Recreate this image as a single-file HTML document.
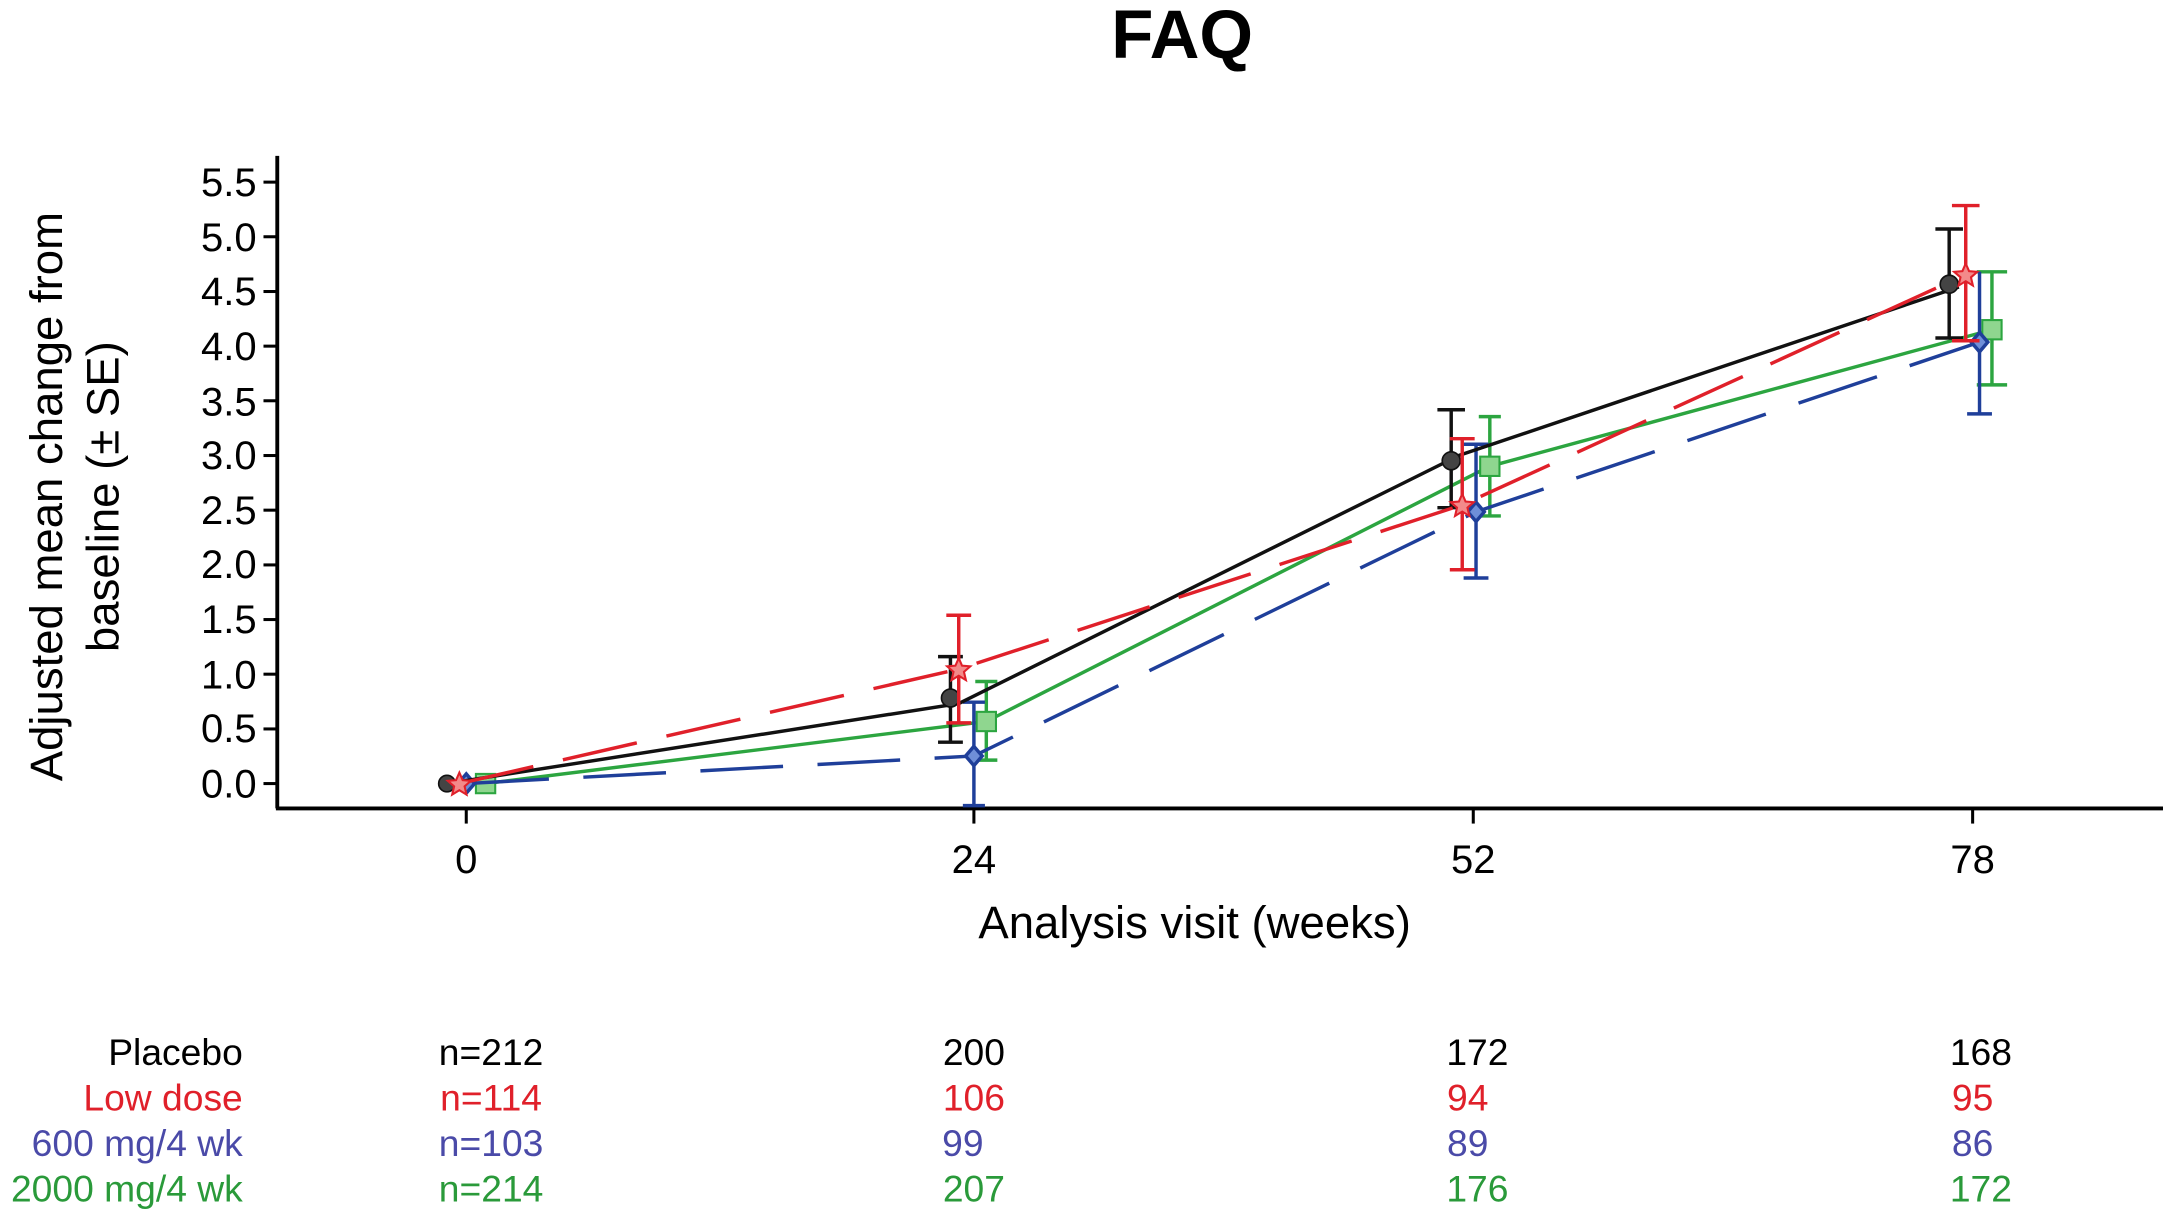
<!DOCTYPE html>
<html><head><style>body{margin:0;background:#fff}svg{display:block}</style></head><body>
<svg width="2163" height="1214" viewBox="0 0 1568 880" xmlns="http://www.w3.org/2000/svg" font-family="Liberation Sans, Arial, sans-serif">
<text x="857" y="42" font-size="50" font-weight="bold" text-anchor="middle">FAQ</text>
<g stroke="#000" stroke-width="2.8" fill="none">
<line x1="201" y1="113" x2="201" y2="586"/>
<line x1="200" y1="586" x2="1568" y2="586"/>
<g stroke-width="2.2">
<line x1="191" y1="568" x2="201" y2="568"/><line x1="191" y1="528.4" x2="201" y2="528.4"/><line x1="191" y1="488.7" x2="201" y2="488.7"/><line x1="191" y1="449.1" x2="201" y2="449.1"/><line x1="191" y1="409.5" x2="201" y2="409.5"/><line x1="191" y1="369.8" x2="201" y2="369.8"/><line x1="191" y1="330.2" x2="201" y2="330.2"/><line x1="191" y1="290.5" x2="201" y2="290.5"/><line x1="191" y1="250.9" x2="201" y2="250.9"/><line x1="191" y1="211.3" x2="201" y2="211.3"/><line x1="191" y1="171.6" x2="201" y2="171.6"/><line x1="191" y1="132" x2="201" y2="132"/>
<line x1="338" y1="586" x2="338" y2="597"/><line x1="706" y1="586" x2="706" y2="597"/><line x1="1068" y1="586" x2="1068" y2="597"/><line x1="1430" y1="586" x2="1430" y2="597"/>
</g></g>
<g font-size="29" text-anchor="end">
<text x="186" y="578">0.0</text><text x="186" y="538">0.5</text><text x="186" y="499">1.0</text><text x="186" y="459">1.5</text><text x="186" y="419">2.0</text><text x="186" y="380">2.5</text><text x="186" y="340">3.0</text><text x="186" y="301">3.5</text><text x="186" y="261">4.0</text><text x="186" y="221">4.5</text><text x="186" y="182">5.0</text><text x="186" y="142">5.5</text>
</g>
<g font-size="29" text-anchor="middle">
<text x="338" y="633">0</text><text x="706" y="633">24</text><text x="1068" y="633">52</text><text x="1430" y="633">78</text>
<text x="866" y="680" font-size="33">Analysis visit (weeks)</text>
</g>
<text transform="translate(45,360) rotate(-90)" font-size="33" text-anchor="middle">Adjusted mean change from</text>
<text transform="translate(86,360) rotate(-90)" font-size="33" text-anchor="middle">baseline (± SE)</text>
<!-- green -->
<g stroke="#2ca540" stroke-width="2.5" fill="none">
<polyline points="352,568 715,523 1080,338 1444,239"/>
<line x1="715" y1="494" x2="715" y2="551"/><line x1="707" y1="494" x2="723" y2="494"/><line x1="707" y1="551" x2="723" y2="551"/>
<line x1="1080" y1="302" x2="1080" y2="374"/><line x1="1072" y1="302" x2="1088" y2="302"/><line x1="1072" y1="374" x2="1088" y2="374"/>
<line x1="1444" y1="197" x2="1444" y2="279"/><line x1="1433" y1="197" x2="1455" y2="197"/><line x1="1433" y1="279" x2="1455" y2="279"/>
</g>
<g fill="#8fd68f" stroke="#2ca540" stroke-width="1.5">
<rect x="345" y="561" width="14" height="14"/><rect x="708" y="516" width="14" height="14"/><rect x="1073" y="331" width="14" height="14"/><rect x="1437" y="232" width="14" height="14"/>
</g>
<!-- blue -->
<g stroke="#1f3f9a" stroke-width="2.5" fill="none">
<polyline points="338,568 706,548 1070,371 1435,248" stroke-dasharray="60,25"/>
<line x1="706" y1="584" x2="706" y2="509"/><line x1="698" y1="584" x2="714" y2="584"/><line x1="698" y1="509" x2="714" y2="509"/>
<line x1="1070" y1="419" x2="1070" y2="322"/><line x1="1061" y1="419" x2="1079" y2="419"/><line x1="1061" y1="322" x2="1079" y2="322"/>
<line x1="1435" y1="300" x2="1435" y2="197"/><line x1="1426" y1="300" x2="1444" y2="300"/>
<path d="M338,561 l6,7 -6,7 -6,-7z M706,541 l6,7 -6,7 -6,-7z M1070,364 l6,7 -6,7 -6,-7z M1435,241 l6,7 -6,7 -6,-7z" fill="#6f8fd8"/>
</g>
<!-- black -->
<g stroke="#111" stroke-width="2.5" fill="none">
<polyline points="324,568 695,510 1058,330 1420,208"/>
<line x1="689" y1="476" x2="689" y2="538"/><line x1="680" y1="476" x2="698" y2="476"/><line x1="680" y1="538" x2="698" y2="538"/>
<line x1="1052" y1="297" x2="1052" y2="368"/><line x1="1042" y1="297" x2="1062" y2="297"/><line x1="1042" y1="368" x2="1062" y2="368"/>
<line x1="1413" y1="166" x2="1413" y2="245"/><line x1="1403" y1="166" x2="1423" y2="166"/><line x1="1403" y1="245" x2="1423" y2="245"/>
</g>
<g fill="#444" stroke="#111" stroke-width="1.2">
<circle cx="324" cy="568" r="6"/><circle cx="689" cy="506" r="6.5"/><circle cx="1052" cy="334" r="6.5"/><circle cx="1413" cy="206" r="6.5"/>
</g>
<!-- red -->
<g stroke="#e0202a" stroke-width="2.5" fill="none">
<polyline points="333,568 695,485 1060,366 1425,199" stroke-dasharray="55,22"/>
<line x1="695" y1="446" x2="695" y2="524"/><line x1="686" y1="446" x2="704" y2="446"/><line x1="686" y1="524" x2="704" y2="524"/>
<line x1="1060" y1="318" x2="1060" y2="413"/><line x1="1051" y1="318" x2="1069" y2="318"/><line x1="1051" y1="413" x2="1069" y2="413"/>
<line x1="1425" y1="149" x2="1425" y2="247"/><line x1="1415" y1="149" x2="1435" y2="149"/><line x1="1415" y1="247" x2="1435" y2="247"/>
</g>
<g fill="#f38a8a" stroke="#e0202a" stroke-width="1.5">
<path d="M333,560 l2.4,5.5 6,0.5 -4.6,4 1.4,6 -5.2,-3.2 -5.2,3.2 1.4,-6 -4.6,-4 6,-0.5z"/>
<path d="M695,477 l2.4,5.5 6,0.5 -4.6,4 1.4,6 -5.2,-3.2 -5.2,3.2 1.4,-6 -4.6,-4 6,-0.5z"/>
<path d="M1060,358 l2.4,5.5 6,0.5 -4.6,4 1.4,6 -5.2,-3.2 -5.2,3.2 1.4,-6 -4.6,-4 6,-0.5z"/>
<path d="M1425,191 l2.4,5.5 6,0.5 -4.6,4 1.4,6 -5.2,-3.2 -5.2,3.2 1.4,-6 -4.6,-4 6,-0.5z"/>
</g>
<!-- n table -->
<g font-size="27">
<g text-anchor="end"><text x="176" y="772">Placebo</text><text x="176" y="805" fill="#e0202a">Low dose</text><text x="176" y="838" fill="#4a4aa8">600 mg/4 wk</text><text x="176" y="871" fill="#2a9a3a">2000 mg/4 wk</text></g>
<g text-anchor="middle">
<text x="356" y="772">n=212</text><text x="706" y="772">200</text><text x="1071" y="772">172</text><text x="1436" y="772">168</text>
<g fill="#e0202a"><text x="356" y="805">n=114</text><text x="706" y="805">106</text><text x="1064" y="805">94</text><text x="1430" y="805">95</text></g>
<g fill="#4a4aa8"><text x="356" y="838">n=103</text><text x="698" y="838">99</text><text x="1064" y="838">89</text><text x="1430" y="838">86</text></g>
<g fill="#2a9a3a"><text x="356" y="871">n=214</text><text x="706" y="871">207</text><text x="1071" y="871">176</text><text x="1436" y="871">172</text></g>
</g></g>
</svg>
</body></html>
